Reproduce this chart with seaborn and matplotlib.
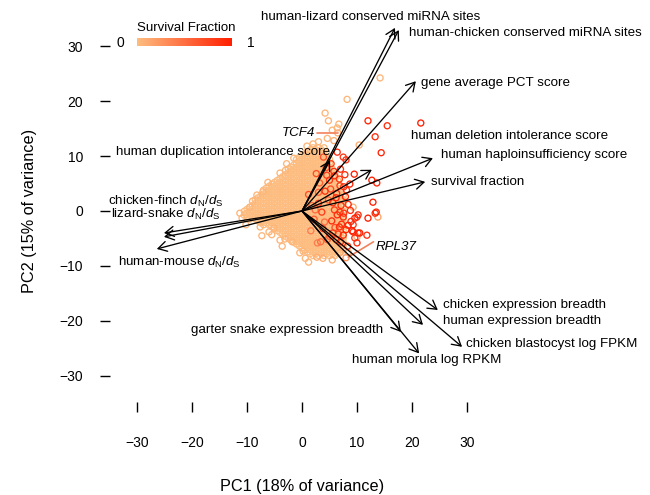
import numpy as np
import pandas as pd
import matplotlib
matplotlib.use("Agg")
import matplotlib.pyplot as plt
import seaborn as sns
from matplotlib.colors import LinearSegmentedColormap, Normalize
from matplotlib.cm import ScalarMappable

# ---------------- data ----------------
# dense core of genes (survival fraction ~0), rows of (PC2, [PC1 values])
core_rows = [
    (11.5, [2, 3, 4]),
    (11.15, [1.5, 2.5, 3.5]),
    (10.8, [1, 2, 3, 4]),
    (10.45, [0.5, 1.5, 2.5, 3.5, 4.5]),
    (10.1, [0, 1, 2, 3, 4]),
    (9.75, [-0.5, 0.5, 1.5, 2.5, 3.5, 4.5]),
    (9.4, [-1, 0, 1, 2, 3, 4, 5]),
    (9.05, [-0.5, 0.5, 1.5, 2.5, 3.5, 4.5]),
    (8.7, [-1, 0, 1, 2, 3, 4, 5]),
    (8.35, [-1.5, -0.5, 0.5, 1.5, 2.5, 3.5, 4.5]),
    (8.0, [-2, -1, 0, 1, 2, 3, 4, 5]),
    (7.65, [-2.5, -1.5, -0.5, 0.5, 1.5, 2.5, 3.5, 4.5, 5.5]),
    (7.3, [-2, -1, 0, 1, 2, 3, 4, 5]),
    (6.95, [-2.5, -1.5, -0.5, 0.5, 1.5, 2.5, 3.5, 4.5, 5.5]),
    (6.6, [-3, -2, -1, 0, 1, 2, 3, 4, 5, 6]),
    (6.25, [-3.5, -2.5, -1.5, -0.5, 0.5, 1.5, 2.5, 3.5, 4.5, 5.5]),
    (5.9, [-4, -3, -2, -1, 0, 1, 2, 3, 4, 5, 6]),
    (5.55, [-4.5, -3.5, -2.5, -1.5, -0.5, 0.5, 1.5, 2.5, 3.5, 4.5, 5.5, 6.5]),
    (5.2, [-5, -4, -3, -2, -1, 0, 1, 2, 3, 4, 5, 6]),
    (4.85, [-5.5, -4.5, -3.5, -2.5, -1.5, -0.5, 0.5, 1.5, 2.5, 3.5, 4.5, 5.5, 6.5]),
    (4.5, [-6, -5, -4, -3, -2, -1, 0, 1, 2, 3, 4, 5, 6]),
    (4.15, [-6.5, -5.5, -4.5, -3.5, -2.5, -1.5, -0.5, 0.5, 1.5, 2.5, 3.5, 4.5, 5.5, 6.5]),
    (3.8, [-7, -6, -5, -4, -3, -2, -1, 0, 1, 2, 3, 4, 5, 6, 7]),
    (3.45, [-6.5, -5.5, -4.5, -3.5, -2.5, -1.5, -0.5, 0.5, 1.5, 2.5, 3.5, 4.5, 5.5, 6.5]),
    (3.1, [-7, -6, -5, -4, -3, -2, -1, 0, 1, 2, 3, 4, 5, 6, 7]),
    (2.75, [-7.5, -6.5, -5.5, -4.5, -3.5, -2.5, -1.5, -0.5, 0.5, 1.5, 2.5, 3.5, 4.5, 5.5, 6.5, 7.5]),
    (2.4, [-8, -7, -6, -5, -4, -3, -2, -1, 0, 1, 2, 3, 4, 5, 6, 7]),
    (2.05, [-8.5, -7.5, -6.5, -5.5, -4.5, -3.5, -2.5, -1.5, -0.5, 0.5, 1.5, 2.5, 3.5, 4.5, 5.5, 6.5, 7.5]),
    (1.7, [-8, -7, -6, -5, -4, -3, -2, -1, 0, 1, 2, 3, 4, 5, 6, 7]),
    (1.35, [-8.5, -7.5, -6.5, -5.5, -4.5, -3.5, -2.5, -1.5, -0.5, 0.5, 1.5, 2.5, 3.5, 4.5, 5.5, 6.5, 7.5]),
    (1.0, [-9, -8, -7, -6, -5, -4, -3, -2, -1, 0, 1, 2, 3, 4, 5, 6, 7]),
    (0.65, [-9.5, -8.5, -7.5, -6.5, -5.5, -4.5, -3.5, -2.5, -1.5, -0.5, 0.5, 1.5, 2.5, 3.5, 4.5, 5.5, 6.5, 7.5]),
    (0.3, [-10, -9, -8, -7, -6, -5, -4, -3, -2, -1, 0, 1, 2, 3, 4, 5, 6, 7]),
    (-0.05, [-10.5, -9.5, -8.5, -7.5, -6.5, -5.5, -4.5, -3.5, -2.5, -1.5, -0.5, 0.5, 1.5, 2.5, 3.5, 4.5, 5.5, 6.5, 7.5]),
    (-0.4, [-10, -9, -8, -7, -6, -5, -4, -3, -2, -1, 0, 1, 2, 3, 4, 5, 6, 7]),
    (-0.75, [-10.5, -9.5, -8.5, -7.5, -6.5, -5.5, -4.5, -3.5, -2.5, -1.5, -0.5, 0.5, 1.5, 2.5, 3.5, 4.5, 5.5, 6.5, 7.5]),
    (-1.1, [-10, -9, -8, -7, -6, -5, -4, -3, -2, -1, 0, 1, 2, 3, 4, 5, 6, 7]),
    (-1.45, [-9.5, -8.5, -7.5, -6.5, -5.5, -4.5, -3.5, -2.5, -1.5, -0.5, 0.5, 1.5, 2.5, 3.5, 4.5, 5.5, 6.5, 7.5]),
    (-1.8, [-8, -7, -6, -5, -4, -3, -2, -1, 0, 1, 2, 3, 4, 5, 6, 7]),
    (-2.15, [-7.5, -6.5, -5.5, -4.5, -3.5, -2.5, -1.5, -0.5, 0.5, 1.5, 2.5, 3.5, 4.5, 5.5, 6.5, 7.5]),
    (-2.5, [-7, -6, -5, -4, -3, -2, -1, 0, 1, 2, 3, 4, 5, 6, 7]),
    (-2.85, [-5.5, -4.5, -3.5, -2.5, -1.5, -0.5, 0.5, 1.5, 2.5, 3.5, 4.5, 5.5, 6.5, 7.5]),
    (-3.2, [-5, -4, -3, -2, -1, 0, 1, 2, 3, 4, 5, 6, 7]),
    (-3.55, [-4.5, -3.5, -2.5, -1.5, -0.5, 0.5, 1.5, 2.5, 3.5, 4.5, 5.5, 6.5, 7.5]),
    (-3.9, [-4, -3, -2, -1, 0, 1, 2, 3, 4, 5, 6, 7]),
    (-4.25, [-3.5, -2.5, -1.5, -0.5, 0.5, 1.5, 2.5, 3.5, 4.5, 5.5, 6.5, 7.5]),
    (-4.6, [-3, -2, -1, 0, 1, 2, 3, 4, 5, 6, 7]),
    (-4.95, [-2.5, -1.5, -0.5, 0.5, 1.5, 2.5, 3.5, 4.5, 5.5, 6.5, 7.5]),
    (-5.3, [-2, -1, 0, 1, 2, 3, 4, 5, 6, 7]),
    (-5.65, [-1.5, -0.5, 0.5, 1.5, 2.5, 3.5, 4.5, 5.5, 6.5, 7.5]),
    (-6.0, [-1, 0, 1, 2, 3, 4, 5, 6, 7]),
    (-6.35, [-0.5, 0.5, 1.5, 2.5, 3.5, 4.5, 5.5, 6.5, 7.5]),
    (-6.7, [0, 1, 2, 3, 4, 5, 6, 7]),
    (-7.05, [0.5, 1.5, 2.5, 3.5, 4.5, 5.5, 6.5, 7.5]),
    (-7.4, [1, 2, 3, 4, 5, 6, 7]),
    (-7.75, [1.5, 2.5, 3.5, 4.5, 5.5, 6.5]),
    (-8.1, [2, 3, 4, 5, 6]),
]

# scattered genes: PC1, PC2, survival fraction
extra_pc1 = [14.2, 8.2, 4.2, 6.7, 5.5, 6.4, 6.5, 10.4, 3.0, 4.6, 2.0, 5.8, 4.8,
             12.0, 15.5, 21.6, 13.3, 14.4, 6.4, 7.5, 8.0, 9.5, 12.7, 13.6, 12.9,
             13.5, 12.0, 10.0, 13.8, 9.3, 9.1, 10.2, 10.0, 3.6, 5.6, 6.4, 6.9,
             7.5, 9.6, 10.2, 13.3, 9.3, 10.5, 11.8, 9.6, 10.0, 9.3,
             4.5, 5.8, 6.8, 7.6, 5.2, 6.3, 7.9, 8.4, 4.8, 5.9, 7.2, 8.0, 6.0,
             5.0, 7.0, 8.3, 4.1, 3.0, 2.6, 7.0, 8.7, 8.9, 6.6, 3.4, 1.8, 5.3,
             3.9, 7.8,
             1.2, 2.2, 3.0, 4.2, 5.0, 3.8, 5.4, 6.2, 7.1, 7.6, 6.8, 5.6, 4.6,
             6.2, 7.5, 8.4, 8.1, 6.9, 5.9, 4.4, 3.2, 2.4, 1.6, 2.8, 8.8,
             2.7, 5.5, 6.9, 8.4, 8.0, -4.0, -3.1, -1.8, -5.1, -10.9, -8.2, -7.1,
             -4.0, -9.5, -10.2, -11.3, -6.2, -2.8, -1.5, 0.9, -7.6, -6.0, -3.6,
             -0.4, 0.6, 3.8, 1.2, -7.3, -5.5, -9.0, -3.0, 0.2]
extra_pc2 = [24.2, 20.3, 17.8, 15.8, 14.7, 15.1, 14.2, 12.0, 12.6, 13.2, 12.2, 12.8, 16.4,
             16.4, 15.5, 16.0, 13.5, 10.6, 10.7, 9.8, 9.3, 6.7, 5.6, 5.1, 1.6,
             -0.2, -1.3, -1.1, -1.1, 0.7, -3.6, -4.0, -4.7, -0.2, 1.5, -0.7, -0.2,
             -1.1, -1.3, -0.7, -0.4, -3.8, -4.0, -4.4, -4.9, -5.8, -2.5,
             6.5, 7.2, 5.8, 4.4, 4.0, 3.2, 2.6, 1.2, 2.0, 0.2, -2.4, -3.4, -3.0,
             -4.6, -5.6, -6.4, -2.0, 3.4, 6.8, 7.6, 4.9, -1.9, -4.2, -5.6, 1.0, 8.6,
             9.8, 6.6,
             3.0, -1.5, 1.4, 3.6, 5.6, -3.2, -1.8, 2.4, 1.0, -0.4, -2.9, -4.0, -5.2,
             -5.2, -4.4, -2.6, 3.8, 4.6, 6.4, 7.9, 5.1, 0.2, -3.6, -5.8, 0.1,
             -8.4, -8.9, -7.6, -7.5, -8.5, -5.3, -5.1, -5.6, -3.1, -1.3, 2.9, 3.5,
             6.9, 0.7, -2.5, -0.4, 5.2, 8.6, 9.6, 11.8, -2.9, -3.8, -6.4,
             -7.6, -8.6, -8.6, -9.3, -4.5, -4.3, 1.8, 7.4, -7.3]
extra_sf = [0.05, 0.05, 0.05, 0.05, 0.05, 0.05, 0.1, 0.1, 0.05, 0.05, 0.05, 0.1, 0.05,
            0.95, 0.9, 1.0, 0.9, 0.95, 0.9, 0.85, 0.9, 1.0, 1.0, 0.95, 1.0,
            0.95, 1.0, 0.9, 0.15, 0.1, 1.0, 0.95, 0.1, 0.8, 0.9, 0.9, 0.85,
            0.9, 0.95, 0.9, 0.9, 0.9, 0.95, 0.9, 0.85, 0.9, 0.85,
            0.8, 0.9, 0.85, 0.9, 0.7, 0.9, 0.95, 0.9, 0.6, 0.8, 0.9, 0.95, 0.7,
            0.6, 0.9, 0.85, 0.5, 0.6, 0.7, 0.9, 0.95, 0.9, 0.8, 0.5, 0.5, 0.8,
            0.7, 0.9,
            0.7, 0.6, 0.8, 0.9, 0.85, 0.7, 0.9, 0.95, 0.9, 0.85, 0.9, 0.8, 0.6,
            0.85, 0.9, 0.95, 0.9, 0.8, 0.9, 0.7, 0.6, 0.5, 0.4, 0.4, 0.9,
            0.1, 0.1, 0.1, 0.1, 0.3, 0.05, 0.05, 0.05, 0.05, 0.05, 0.05, 0.05,
            0.05, 0.05, 0.05, 0.05, 0.05, 0.05, 0.05, 0.05, 0.05, 0.05, 0.05,
            0.05, 0.05, 0.1, 0.05, 0.05, 0.05, 0.05, 0.05, 0.05]

# loadings (arrow tips) and their labels
arrow_names = ["human-lizard conserved miRNA sites", "human-chicken conserved miRNA sites",
               "gene average PCT score", "human deletion intolerance score",
               "human haploinsufficiency score", "survival fraction",
               "human duplication intolerance score",
               "chicken-finch $d_\\mathrm{N}/d_\\mathrm{S}$", "lizard-snake $d_\\mathrm{N}/d_\\mathrm{S}$",
               "human-mouse $d_\\mathrm{N}/d_\\mathrm{S}$",
               "chicken expression breadth", "human expression breadth",
               "chicken blastocyst log FPKM", "human morula log RPKM",
               "garter snake expression breadth"]
arrow_pc1 = [16.9, 17.6, 20.7, 12.7, 23.8, 22.4, 5.1, -25.1, -25.1, -26.4, 24.7, 22.0, 29.1, 21.3, 18.0]
arrow_pc2 = [33.3, 32.9, 23.6, 7.5, 9.6, 5.3, 9.2, -4.0, -4.7, -6.9, -18.0, -20.7, -24.7, -25.9, -22.0]
label_pc1 = [12.5, 19.5, 21.6, 19.8, 25.3, 23.5, 5.1, -24.7, -24.7, -22.3, 25.6, 25.6, 29.8, 22.7, 14.7]
label_pc2 = [35.3, 32.4, 23.2, 13.6, 10.2, 5.3, 10.7, 1.8, -0.7, -9.3, -17.1, -20.0, -24.2, -27.1, -21.6]
label_ha = ["center", "left", "left", "left", "left", "left", "right", "center", "center",
            "center", "left", "left", "left", "center", "right"]

ticks = [-30, -20, -10, 0, 10, 20, 30]

# ---------------- style ----------------
sns.set_style("white")
plt.rcParams["font.family"] = ["Liberation Sans", "DejaVu Sans"]
plt.rcParams["mathtext.fontset"] = "custom"
plt.rcParams["mathtext.rm"] = "Liberation Sans"
plt.rcParams["mathtext.it"] = "Liberation Sans:italic"
for k in ["text.color", "axes.labelcolor", "xtick.color", "ytick.color"]:
    plt.rcParams[k] = "black"

cmap = LinearSegmentedColormap.from_list("sf", ["#FDBD80", "#FF1E00"])

core_x, core_y = [], []
for yv, xs in core_rows:
    core_x.extend(xs)
    core_y.extend([yv] * len(xs))
df_core = pd.DataFrame({"pc1": core_x, "pc2": core_y, "sf": 0.0})
df_extra = pd.DataFrame({"pc1": extra_pc1, "pc2": extra_pc2, "sf": extra_sf}).sort_values("sf")
df = pd.concat([df_core, df_extra], ignore_index=True)

W, H = 650, 495
fig = plt.figure(figsize=(6.5, 4.95), dpi=100)
px = lambda x, y: (x / W, 1 - y / H)
ax = fig.add_axes([110 / W, 1 - 402 / H, 384 / W, 382 / H])

sns.scatterplot(data=df, x="pc1", y="pc2", hue="sf", palette=cmap, hue_norm=(0, 1),
                s=19, linewidth=0.95, legend=False, ax=ax)
coll = ax.collections[0]
fcs = coll.get_facecolors()
coll.set_edgecolors(fcs)
coll.set_facecolors("none")

FS = 9.6
for nm, x1, y1, lx, ly, ha in zip(arrow_names, arrow_pc1, arrow_pc2, label_pc1, label_pc2, label_ha):
    ax.annotate("", xy=(x1, y1), xytext=(0, 0),
                arrowprops=dict(arrowstyle="->,head_length=0.62,head_width=0.36",
                                color="black", lw=0.95, shrinkA=0, shrinkB=0),
                annotation_clip=False)
    ax.text(lx, ly, nm, ha=ha, va="center", fontsize=FS, clip_on=False)

# highlighted genes
ax.plot([2.7, 6.5], [14.2, 14.2], color="#F2825E", lw=1.2)
ax.text(2.4, 14.2, "TCF4", ha="right", va="center", fontsize=FS, style="italic")
ax.plot([13.0, 8.4], [-5.6, -8.4], color="#F2825E", lw=1.2)
ax.text(13.3, -6.5, "RPL37", ha="left", va="center", fontsize=FS, style="italic")

ax.set_xlim(-34.91, 34.91)
ax.set_ylim(-34.73, 34.73)
ax.set_xticks(ticks)
ax.set_yticks(ticks)
for s in ax.spines.values():
    s.set_visible(False)
ax.tick_params(axis="x", direction="out", length=7.5, width=1.0, pad=17, labelsize=10, bottom=True)
ax.tick_params(axis="y", direction="out", length=7.5, width=1.0, pad=12, labelsize=10, left=True)
ax.set_xlabel("")
ax.set_ylabel("")

fig.text(*px(302, 487), "PC1 (18% of variance)", ha="center", va="center", fontsize=11.7)
fig.text(*px(30, 211), "PC2 (15% of variance)", ha="center", va="center", fontsize=11.7, rotation=90)

# colour legend
cax = fig.add_axes([137 / W, 1 - 46 / H, 95 / W, 8 / H])
cb = fig.colorbar(ScalarMappable(norm=Normalize(0, 1), cmap=cmap), cax=cax, orientation="horizontal")
cb.outline.set_visible(False)
cb.set_ticks([])
fig.text(*px(186, 28), "Survival Fraction", ha="center", va="center", fontsize=9.5)
fig.text(*px(120, 43), "0", ha="center", va="center", fontsize=10)
fig.text(*px(251, 43), "1", ha="center", va="center", fontsize=10)

fig.savefig("out.png", dpi=100)
